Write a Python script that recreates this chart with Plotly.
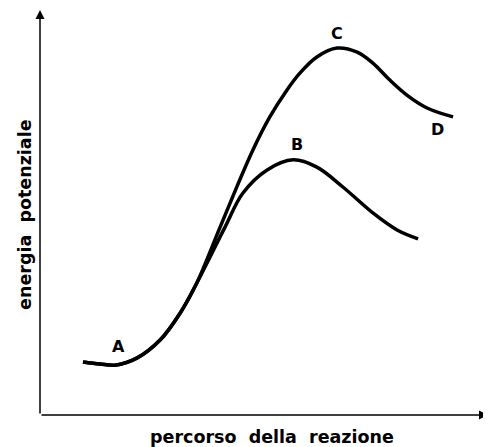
import plotly.graph_objects as go

# reaction path A -> B (lower curve)
path_b_x = [9.6, 13.4, 16.7, 21.7, 26.8, 31.3, 35.0, 41.3, 45.3, 50.7, 56.5, 61.8, 67.6, 74.3, 79.7, 84.4]
path_b_y = [13.1, 12.6, 12.3, 14.1, 18.5, 25.2, 32.6, 46.4, 54.8, 60.5, 63.0, 61.2, 56.3, 49.9, 45.7, 43.5]

# reaction path A -> C -> D (upper curve)
path_c_x = [9.6, 13.4, 16.7, 21.7, 26.8, 31.3, 35.0, 40.2, 44.0, 47.5, 51.3, 55.1, 58.0, 61.8, 66.3, 70.8, 74.3, 78.1, 81.9, 86.4, 92.2]
path_c_y = [13.1, 12.6, 12.3, 14.1, 18.5, 25.2, 32.6, 46.4, 56.5, 65.4, 73.6, 80.2, 84.4, 88.4, 90.6, 89.6, 86.9, 82.7, 79.0, 75.8, 73.6]

point_labels = ["A", "B", "C", "D"]
label_x = [17.6, 57.4, 66.3, 88.8]
label_y = [17.0, 66.7, 94.3, 70.4]

x_title = "percorso\u00a0\u00a0della\u00a0\u00a0reazione"
y_title = "energia\u00a0\u00a0potenziale"

fig = go.Figure()
for xs, ys in [(path_b_x, path_b_y), (path_c_x, path_c_y)]:
    fig.add_trace(go.Scatter(x=xs, y=ys, mode="lines",
                             line=dict(color="black", width=3.5, shape="spline", smoothing=1.0),
                             hoverinfo="skip", showlegend=False))

font_main = dict(family="DejaVu Sans", size=17.5, color="black")

anns = []
for t, x, y in zip(point_labels, label_x, label_y):
    anns.append(dict(x=x, y=y, xref="x", yref="y", text="<b>%s</b>" % t,
                     showarrow=False, xanchor="center", yanchor="middle",
                     font=dict(family="DejaVu Sans", size=16, color="black")))
# axis arrows
anns.append(dict(x=100, y=0, ax=0, ay=0, xref="x", yref="y", axref="x", ayref="y",
                 showarrow=True, arrowhead=2, arrowsize=1.2, arrowwidth=1.5, arrowcolor="black", text=""))
anns.append(dict(x=0, y=100, ax=0, ay=0, xref="x", yref="y", axref="x", ayref="y",
                 showarrow=True, arrowhead=2, arrowsize=1.2, arrowwidth=1.5, arrowcolor="black", text=""))
# axis titles
anns.append(dict(x=51.8, y=0, xref="x", yref="paper", yshift=-22, xanchor="center", yanchor="middle",
                 text="<b>%s</b>" % x_title, showarrow=False, font=font_main))
anns.append(dict(x=0, y=49.4, xref="paper", yref="y", xshift=-15, xanchor="center", yanchor="middle",
                 textangle=-90, text="<b>%s</b>" % y_title, showarrow=False, font=font_main))

# page body has an 8px default margin, so the figure is sized/offset to compensate
fig.update_layout(
    width=483, height=439,
    margin=dict(l=32, r=3, t=2, b=32),
    paper_bgcolor="white", plot_bgcolor="white",
    xaxis=dict(range=[0, 100], visible=False, fixedrange=True),
    yaxis=dict(range=[0, 100], visible=False, fixedrange=True),
    annotations=anns,
)

fig.write_html("out.html")
